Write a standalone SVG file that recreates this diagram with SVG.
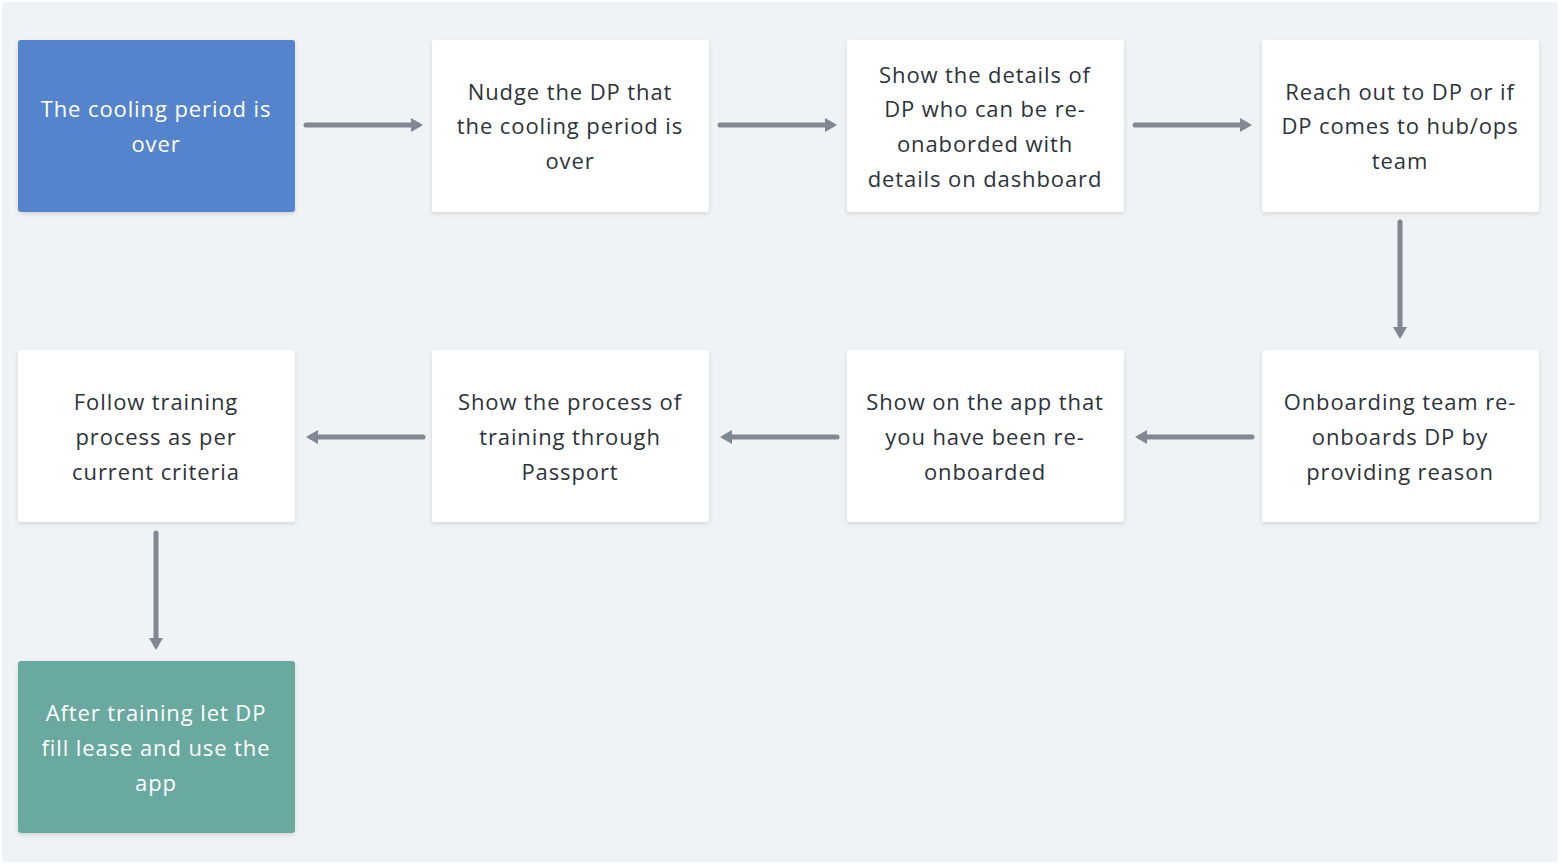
<svg xmlns="http://www.w3.org/2000/svg" width="1562" height="868" viewBox="0 0 1562 868">
<defs>
<filter id="sh" x="-10%" y="-10%" width="120%" height="130%"><feDropShadow dx="0" dy="2" stdDeviation="2" flood-color="#000" flood-opacity="0.12"/></filter>
<marker id="ah" viewBox="0 0 12 14" refX="7" refY="7" markerWidth="2.4" markerHeight="2.8" orient="auto" markerUnits="strokeWidth"><path d="M0,0 L12,7 L0,14 z" fill="#7f8893"/></marker>
</defs>
<style>
.n{fill:#ffffff;filter:url(#sh)}
.t{font-family:"Open Sans","Liberation Sans",sans-serif;font-size:22px;font-weight:500;fill:#2d3339;text-anchor:middle;letter-spacing:0.9px}
.w{fill:#ffffff}
.c{stroke:#7f8893;stroke-width:5;stroke-linecap:round;fill:none;marker-end:url(#ah)}
</style>
<rect x="0" y="0" width="1562" height="868" fill="#ffffff"/>
<rect x="2" y="2" width="1556" height="860" fill="#eff3f6"/>
<g id="n1"><rect class="n" x="18" y="40" width="277" height="172" rx="3" style="fill:#5784cc"/><text class="t w" x="156" y="117">The cooling period is</text><text class="t w" x="156" y="152">over</text></g>
<g id="n2"><rect class="n" x="432" y="40" width="277" height="172" rx="3"/><text class="t" x="570" y="100">Nudge the DP that</text><text class="t" x="570" y="134">the cooling period is</text><text class="t" x="570" y="169">over</text></g>
<g id="n3"><rect class="n" x="847" y="40" width="277" height="172" rx="3"/><text class="t" x="985" y="83">Show the details of</text><text class="t" x="985" y="117">DP who can be re-</text><text class="t" x="985" y="152">onaborded with</text><text class="t" x="985" y="187">details on dashboard</text></g>
<g id="n4"><rect class="n" x="1262" y="40" width="277" height="172" rx="3"/><text class="t" x="1400" y="100">Reach out to DP or if</text><text class="t" x="1400" y="134">DP comes to hub/ops</text><text class="t" x="1400" y="169">team</text></g>
<g id="n5"><rect class="n" x="1262" y="350" width="277" height="172" rx="3"/><text class="t" x="1400" y="410">Onboarding team re-</text><text class="t" x="1400" y="445">onboards DP by</text><text class="t" x="1400" y="480">providing reason</text></g>
<g id="n6"><rect class="n" x="847" y="350" width="277" height="172" rx="3"/><text class="t" x="985" y="410">Show on the app that</text><text class="t" x="985" y="445">you have been re-</text><text class="t" x="985" y="480">onboarded</text></g>
<g id="n7"><rect class="n" x="432" y="350" width="277" height="172" rx="3"/><text class="t" x="570" y="410">Show the process of</text><text class="t" x="570" y="445">training through</text><text class="t" x="570" y="480">Passport</text></g>
<g id="n8"><rect class="n" x="18" y="350" width="277" height="172" rx="3"/><text class="t" x="156" y="410">Follow training</text><text class="t" x="156" y="445">process as per</text><text class="t" x="156" y="480">current criteria</text></g>
<g id="n9"><rect class="n" x="18" y="661" width="277" height="172" rx="3" style="fill:#6aa99f"/><text class="t w" x="156" y="721">After training let DP</text><text class="t w" x="156" y="756">fill lease and use the</text><text class="t w" x="156" y="791">app</text></g>
<g id="connectors">
<line class="c" x1="306" y1="125" x2="418" y2="125"/>
<line class="c" x1="720" y1="125" x2="832" y2="125"/>
<line class="c" x1="1135" y1="125" x2="1247" y2="125"/>
<line class="c" x1="1400" y1="222" x2="1400" y2="334"/>
<line class="c" x1="1252" y1="437" x2="1140" y2="437"/>
<line class="c" x1="837" y1="437" x2="725" y2="437"/>
<line class="c" x1="423" y1="437" x2="311" y2="437"/>
<line class="c" x1="156" y1="533" x2="156" y2="645"/>
</g>
</svg>
